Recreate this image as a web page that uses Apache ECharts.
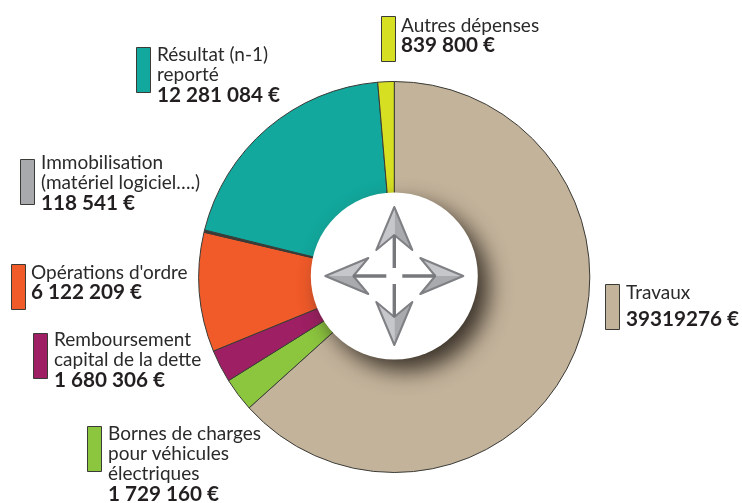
<!DOCTYPE html>
<html><head><meta charset="utf-8">
<style>html,body{margin:0;padding:0;background:#fff}#c{width:742px;height:503px}</style>
<script src="https://cdn.jsdelivr.net/npm/echarts@6/dist/echarts.min.js"></script>
</head><body><div id="c"></div>
<script>
const categories = ['Travaux','Bornes de charges pour véhicules électriques','Remboursement capital de la dette',"Opérations d'ordre",'Immobilisation (matériel logiciel….)','Résultat (n-1) reporté','Autres dépenses'];
const values = [39319276,1729160,1680306,6122209,118541,12281084,839800];
const valueLabels = ['39319276 €','1 729 160 €','1 680 306 €','6 122 209 €','118 541 €','12 281 084 €','839 800 €'];
const labelLines = [['Travaux'],['Bornes de charges','pour véhicules','électriques'],['Remboursement','capital de la dette'],["Opérations d'ordre"],['Immobilisation','(matériel logiciel….)'],['Résultat (n-1)','reporté'],['Autres dépenses']];
const colors = ['#c3b39b','#8cc63f','#9e1f63','#f15a29','#a7a9ac','#12a89d','#d7df23'];
const edge = '#3a3a36';
// swatch left/top, text left/top
const layout = [[605,284,626,283],[87,426,108,424],[33,333,54,330],[11,264,31,263],[20,159,41,153],[136,47,157,45],[381,16,401,16]];

const cx=394.3, cy=276;
const pts=a=>a.map(p=>[cx+p[0],cy+p[1]]);
function arrow(dx,dy,light,dark){
  const px=-dy,py=dx, P=(a,b)=>[dx*a+px*b,dy*a+py*b];
  const tip=P(69,0),n=P(41,0),b1=P(26,18),b2=P(26,-18);
  return [
    {type:'polygon',z:12,shape:{points:pts([tip,b1,n])},style:{fill:light}},
    {type:'polygon',z:12,shape:{points:pts([tip,b2,n])},style:{fill:dark}},
    {type:'polygon',z:12,shape:{points:pts([tip,b1,n,b2])},style:{fill:'none',stroke:'#7f8084',lineWidth:2,lineJoin:'round'}},
    {type:'line',z:13,shape:{x1:cx+P(41,0)[0],y1:cy+P(41,0)[1],x2:cx+P(8,0)[0],y2:cy+P(8,0)[1]},style:{stroke:'#77787c',lineWidth:3.4}}
  ];
}
const texts = categories.map((c,i)=>({
  type:'text',z:20,left:layout[i][2],top:layout[i][3],
  style:{
    text:[...labelLines[i].map(l=>'{n|'+l+'}'),...(i===0?['{g| }']:[]),'{b|'+valueLabels[i]+'}'].join('\n'),
    rich:{n:{fontFamily:'Lato',fontSize:19,lineHeight:20.2,fill:'#2b2a2b',color:'#2b2a2b'},
          g:{fontSize:4,lineHeight:7},
          b:{fontFamily:'Lato',fontSize:20.7,fontWeight:'bold',lineHeight:20.2,fill:'#231f20',color:'#231f20'}}
  }
}));
const chart=echarts.init(document.getElementById('c'),null,{renderer:'canvas'});
chart.setOption({
  animation:false,
  legend:categories.map((c,i)=>({
    data:[c],left:layout[i][0],top:layout[i][1],padding:0,itemWidth:14,itemHeight:45,itemGap:0,
    selectedMode:false,formatter:()=>'',icon:'rect',textStyle:{fontSize:1},
    itemStyle:{color:colors[i],borderColor:edge,borderWidth:1}
  })),
  series:[{
    type:'pie',center:[cx,277],radius:[0,195.5],startAngle:90,clockwise:true,
    label:{show:false},labelLine:{show:false},silent:true,
    itemStyle:{borderColor:edge,borderWidth:1},
    data:categories.map((c,i)=>({name:c,value:values[i],itemStyle:{color:i===4?edge:colors[i]}}))
  }],
  graphic:[
    {type:'circle',z:10,shape:{cx:cx,cy:cy,r:83.5},style:{fill:'#fff',shadowBlur:22,shadowOffsetX:11,shadowOffsetY:11,shadowColor:'rgba(45,38,30,0.9)'}},
    ...arrow(0,-1,'#a9aaae','#c6c7ca'),
    ...arrow(1,0,'#a9aaae','#c6c7ca'),
    ...arrow(0,1,'#c6c7ca','#a9aaae'),
    ...arrow(-1,0,'#c6c7ca','#a9aaae'),
    ...texts
  ]
});
</script></body></html>
